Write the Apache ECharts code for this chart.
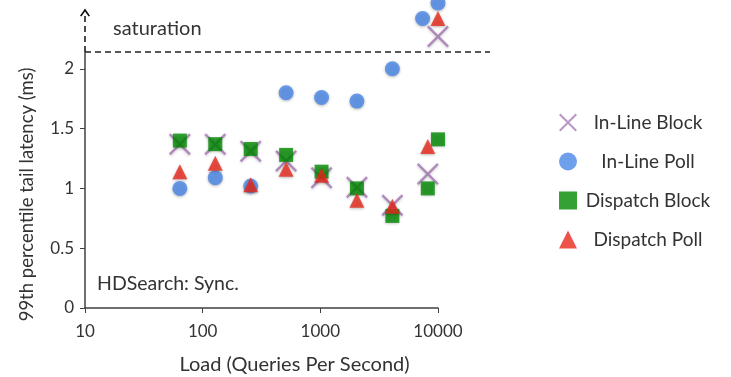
<!DOCTYPE html>
<html>
<head>
<meta charset="utf-8">
<script src="https://cdn.jsdelivr.net/npm/echarts@6/dist/echarts.min.js"></script>
<style>
  html, body { margin: 0; padding: 0; background: #fff; }
  #chart { width: 731px; height: 377px; }
</style>
</head>
<body>
<div id="chart"></div>
<script>
// load points (queries per second)
var loads = [64, 128, 256, 512, 1024, 2048, 4096, 8192, 10000];
var inlineBlock = [1.37, 1.37, 1.31, 1.23, 1.09, 1.01, 0.86, 1.12, 2.27];
var inlinePollX = [64, 128, 256, 512, 1024, 2048, 4096, 7400, 10000];
var inlinePoll = [1.0, 1.09, 1.02, 1.80, 1.76, 1.73, 2.0, 2.42, 2.55];
var dispatchBlock = [1.40, 1.37, 1.33, 1.28, 1.14, 1.0, 0.77, 1.0, 1.41];
var dispatchPoll = [1.14, 1.21, 1.03, 1.16, 1.11, 0.90, 0.85, 1.35, 2.42];
var yTicks = [0, 0.5, 1, 1.5, 2];
var saturation = 2.14;

function pairs(xs, ys) {
  var out = [];
  for (let i = 0; i < xs.length; i++) {
    out.push([xs[i], ys[i]]);
  }
  return out;
}

var crossPath = 'path://M0,1.6L1.6,0L10,8.4L18.4,0L20,1.6L11.6,10L20,18.4L18.4,20L10,11.6L1.6,20L0,18.4L8.4,10Z';
var chevron = 'path://M0,8L5,0L10,8L8.6,9L5,3.4L1.4,9Z';
var font = 'Lato, "Open Sans", sans-serif';
var shadow = { shadowBlur: 3, shadowOffsetY: 1, shadowColor: 'rgba(0,0,0,0.35)' };

var chart = echarts.init(document.getElementById('chart'));

var labels = [
  { type: 'text', left: 113, top: 19, style: { text: 'saturation', fontSize: 20, fill: '#333', fontFamily: font } },
  { type: 'text', left: 97, top: 274, style: { text: 'HDSearch: Sync.', fontSize: 19.5, fill: '#333', fontFamily: font } }
];

option = {
  animation: false,
  grid: { left: 85, right: 293, top: 9, bottom: 69, outerBoundsMode: 'none' },
  legend: {
    orient: 'vertical',
    left: 554,
    top: 108,
    itemWidth: 18,
    itemHeight: 18,
    itemGap: 20,
    formatter: '{a|{name}}',
    textStyle: {
      rich: { a: { width: 132, height: 22, align: 'center', fontSize: 19, color: '#333', fontFamily: font } }
    },
    data: ['In-Line Block', 'In-Line Poll', 'Dispatch Block', 'Dispatch Poll']
  },
  xAxis: {
    type: 'log',
    logBase: 10,
    min: 10,
    max: 10000,
    name: 'Load (Queries Per Second)',
    nameLocation: 'middle',
    nameGap: 47,
    nameTextStyle: { fontSize: 20, color: '#333', fontFamily: font, padding: [0, 0, 0, 66] },
    axisLine: { lineStyle: { color: '#404040', width: 1.5 } },
    axisTick: { length: 5, lineStyle: { color: '#404040' } },
    axisLabel: {
      fontSize: 17, color: '#333', fontFamily: font, margin: 15,
      formatter: function (v) { return String(Math.round(v)); }
    },
    splitLine: { show: false },
    minorTick: { show: false }
  },
  yAxis: {
    type: 'value',
    min: 0,
    max: 2.5,
    interval: 0.5,
    name: '99th percentile tail latency (ms)',
    nameLocation: 'middle',
    nameGap: 48,
    nameTextStyle: { fontSize: 18.5, color: '#333', fontFamily: font, padding: [0, 72, 0, 0] },
    axisLine: { show: false },
    axisTick: { show: true, length: 5, customValues: yTicks, lineStyle: { color: '#404040' } },
    axisLabel: { fontSize: 17, color: '#333', fontFamily: font, margin: 11, customValues: yTicks },
    splitLine: { show: false }
  },
  graphic: labels,
  series: [
    {
      name: 'In-Line Block',
      type: 'scatter',
      clip: false,
      symbol: crossPath,
      symbolSize: 22,
      itemStyle: Object.assign({ color: 'rgba(140,80,160,0.75)' }, shadow),
      data: pairs(loads, inlineBlock),
      markLine: {
        silent: true,
        animation: false,
        label: { show: false },
        symbol: 'none',
        data: [
          [{ coord: [10, 0], lineStyle: { color: '#404040', width: 1.5, type: 'solid' } }, { coord: [10, saturation] }],
          [{ coord: [10, saturation], symbol: 'none', lineStyle: { color: '#111', width: 1.5, type: [6, 4] } },
           { coord: [10, 2.47], symbol: chevron, symbolSize: [10, 8] }]
        ]
      }
    },
    {
      name: 'In-Line Poll',
      type: 'scatter',
      clip: false,
      symbol: 'circle',
      symbolSize: 15,
      itemStyle: Object.assign({ color: '#4a87e8' }, shadow),
      data: pairs(inlinePollX, inlinePoll)
    },
    {
      name: 'Dispatch Block',
      type: 'scatter',
      clip: false,
      symbol: 'rect',
      symbolSize: 14,
      itemStyle: Object.assign({ color: '#008a00' }, shadow),
      data: pairs(loads, dispatchBlock)
    },
    {
      name: 'Dispatch Poll',
      type: 'scatter',
      clip: false,
      symbol: 'triangle',
      symbolSize: 15,
      itemStyle: Object.assign({ color: '#e8281c' }, shadow),
      data: pairs(loads, dispatchPoll)
    }
  ]
};

chart.setOption(option);

// saturation line runs past the x axis end, so draw it from the converted pixel
var satPt = chart.convertToPixel({ gridIndex: 0 }, [10, saturation]);
chart.setOption({
  graphic: labels.concat([{
    type: 'line',
    silent: true,
    shape: { x1: satPt[0], y1: satPt[1], x2: 490, y2: satPt[1] },
    style: { stroke: '#222', lineWidth: 1.5, lineDash: [6, 4] }
  }])
}, { replaceMerge: ['graphic'] });
</script>
</body>
</html>
